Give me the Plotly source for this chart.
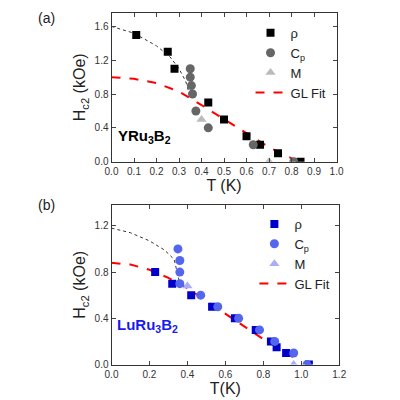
import plotly.graph_objects as go

# Panel (a) YRu3B2
a_rho_T = [0.11, 0.25, 0.28, 0.43, 0.50, 0.60, 0.66, 0.74, 0.84]
a_rho_H = [1.5, 1.3, 1.1, 0.7, 0.5, 0.3, 0.2, 0.1, 0.0]
a_cp_T = [0.35, 0.35, 0.355, 0.36, 0.375, 0.43, 0.63, 0.81]
a_cp_H = [1.1, 1.0, 0.9, 0.8, 0.6, 0.4, 0.2, 0.0]
a_m_T = [0.40, 0.70]
a_m_H = [0.5, 0.0]
a_gl_T = [0.0, 0.1, 0.2, 0.3, 0.4, 0.5, 0.6, 0.7, 0.8, 0.83]
a_gl_H = [1.0, 0.98, 0.93, 0.83, 0.67, 0.5, 0.33, 0.17, 0.04, 0.0]
a_dot_T = [0.0, 0.1, 0.2, 0.26, 0.3, 0.33, 0.35]
a_dot_H = [1.6, 1.52, 1.37, 1.24, 1.1, 0.95, 0.76]

# Panel (b) LuRu3B2
b_rho_T = [0.23, 0.32, 0.42, 0.53, 0.65, 0.76, 0.84, 0.87, 0.92, 1.04]
b_rho_H = [0.8, 0.7, 0.6, 0.5, 0.4, 0.3, 0.2, 0.15, 0.1, 0.0]
b_cp_T = [0.35, 0.36, 0.36, 0.36, 0.47, 0.56, 0.67, 0.78, 0.86, 0.96, 1.03]
b_cp_H = [1.0, 0.9, 0.8, 0.7, 0.6, 0.5, 0.4, 0.3, 0.2, 0.1, 0.0]
b_m_T = [0.40, 0.96]
b_m_H = [0.68, 0.0]
b_gl_T = [0.0, 0.1, 0.2, 0.3, 0.4, 0.5, 0.6, 0.7, 0.8, 0.9, 0.97]
b_gl_H = [0.88, 0.865, 0.82, 0.75, 0.66, 0.55, 0.44, 0.33, 0.22, 0.12, 0.05]
b_dot_T = [0.0, 0.1, 0.2, 0.28, 0.33, 0.36]
b_dot_H = [1.18, 1.14, 1.07, 0.99, 0.91, 0.70]

fig = go.Figure()

def add_panel(sfx, rhoT, rhoH, cpT, cpH, mT, mH, glT, glH, dT, dH, cols, lg):
    xa, ya = 'x' + sfx, 'y' + sfx
    fig.add_trace(go.Scatter(x=dT, y=dH, mode='lines', line=dict(color='#333', dash='dot', width=1),
                             xaxis=xa, yaxis=ya, showlegend=False, hoverinfo='skip'))
    fig.add_trace(go.Scatter(x=glT, y=glH, mode='lines', line=dict(color='red', dash='dash', width=2),
                             xaxis=xa, yaxis=ya, name='GL Fit', legend=lg, legendrank=4))
    fig.add_trace(go.Scatter(x=rhoT, y=rhoH, mode='markers', marker=dict(symbol='square', size=8, color=cols[0]),
                             xaxis=xa, yaxis=ya, name='ρ', legend=lg, legendrank=1))
    fig.add_trace(go.Scatter(x=cpT, y=cpH, mode='markers', marker=dict(symbol='circle', size=9, color=cols[1]),
                             xaxis=xa, yaxis=ya, name='C<sub>p</sub>', legend=lg, legendrank=2))
    fig.add_trace(go.Scatter(x=mT, y=mH, mode='markers', marker=dict(symbol='triangle-up', size=9, color=cols[2]),
                             xaxis=xa, yaxis=ya, name='M', legend=lg, legendrank=3))

add_panel('', a_rho_T, a_rho_H, a_cp_T, a_cp_H, a_m_T, a_m_H, a_gl_T, a_gl_H, a_dot_T, a_dot_H,
          ['black', '#666666', '#bbbbbb'], 'legend')
add_panel('2', b_rho_T, b_rho_H, b_cp_T, b_cp_H, b_m_T, b_m_H, b_gl_T, b_gl_H, b_dot_T, b_dot_H,
          ['#0000cc', '#5566ee', '#a9aff5'], 'legend2')

ax = dict(showline=True, linecolor='#333', linewidth=1, mirror='ticks', ticks='inside', ticklen=4,
          showgrid=False, zeroline=False, tickfont=dict(size=10, color='#333'))
tf = dict(size=16, color='#222')
fig.update_layout(
    width=400, height=400, margin=dict(l=0, r=0, t=0, b=0),
    plot_bgcolor='white', paper_bgcolor='white',
    font=dict(family='Arial, Liberation Sans', color='#222'),
    xaxis=dict(ax, domain=[0.25, 0.833], range=[0, 1.0], dtick=0.1, tickformat='.1f', anchor='y',
               title=dict(text='T (K)', font=tf, standoff=2)),
    yaxis=dict(ax, domain=[0.61, 0.9875], range=[0, 1.76], dtick=0.4, tickformat='.1f', anchor='x',
               title=dict(text='H<sub>c2</sub> (kOe)', font=tf, standoff=4)),
    xaxis2=dict(ax, domain=[0.25, 0.84], range=[0, 1.2], dtick=0.2, tickformat='.1f', anchor='y2',
                title=dict(text='T(K)', font=tf, standoff=2)),
    yaxis2=dict(ax, domain=[0.095, 0.5], range=[0, 1.38], dtick=0.4, tickformat='.1f', anchor='x2',
                title=dict(text='H<sub>c2</sub> (kOe)', font=tf, standoff=4)),
    legend=dict(x=0.82, y=0.975, xanchor='right', yanchor='top', bgcolor='rgba(0,0,0,0)',
                font=dict(size=13), tracegroupgap=0, itemwidth=30),
    legend2=dict(x=0.83, y=0.49, xanchor='right', yanchor='top', bgcolor='rgba(0,0,0,0)',
                 font=dict(size=13), tracegroupgap=0, itemwidth=30),
    annotations=[
        dict(text='(a)', x=0.055, y=1.0, xref='paper', yref='paper', showarrow=False, font=dict(size=14), xanchor='left', yanchor='top'),
        dict(text='(b)', x=0.055, y=0.525, xref='paper', yref='paper', showarrow=False, font=dict(size=14), xanchor='left', yanchor='top'),
        dict(text='<b>YRu<sub>3</sub>B<sub>2</sub></b>', x=0.02, y=0.3, xref='x', yref='y', showarrow=False,
             font=dict(size=15, color='black'), xanchor='left'),
        dict(text='<b>LuRu<sub>3</sub>B<sub>2</sub></b>', x=0.02, y=0.34, xref='x2', yref='y2', showarrow=False,
             font=dict(size=15, color='#1a1aee'), xanchor='left'),
    ],
)
fig.write_html('out.html')
